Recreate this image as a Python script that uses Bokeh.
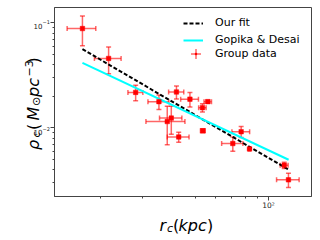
from bokeh.plotting import figure
from bokeh.layouts import row, column
from bokeh.models import (ColumnDataSource, Whisker, TeeHead, FixedTicker, Legend,
                          LegendItem, Label, Range1d)
from bokeh.embed import file_html
from bokeh.resources import INLINE

# ---- data ----
rc = [16.9, 21.7, 28.1, 35.1, 41.5, 39.5, 38.0, 42.4, 47.2, 56.0, 53.2, 53.4,
      77.0, 71.1, 83.4, 116.2, 121.0]
rc_err = [2.3, 2.75, 2.0, 3.5, 3.0, 4.2, 7.0, 4.4, 4.0, 2.0, 1.9, 1.2,
          6.5, 7.2, 0.6, 4.4, 13.0]
rho = [0.0885, 0.0459, 0.0218, 0.0178, 0.0220, 0.0124, 0.0115, 0.0082, 0.0188,
       0.0178, 0.0156, 0.0094, 0.0092, 0.0071, 0.0063, 0.0044, 0.0032]
rho_err = [0.028, 0.013, 0.0037, 0.0028, 0.0031, 0.0037, 0.0046, 0.0009, 0.003,
           0.0006, 0.0014, 0.0004, 0.0011, 0.0011, 0.0001, 0.0003, 0.0005]

fit_rc = [16.9, 121.2]
fit_rho = [0.0563, 0.0040]       # "Our fit"
gd_rho = [0.0416, 0.00497]       # "Gopika & Desai"

x_major = [100]
x_minor = [20, 30, 40, 50, 60, 70, 80, 90]
y_major = [0.01, 0.1]
y_minor = [0.003, 0.004, 0.005, 0.006, 0.007, 0.008, 0.009,
           0.02, 0.03, 0.04, 0.05, 0.06, 0.07, 0.08, 0.09]
x_labels = {100: "10²"}
y_exps = ["−2", "−1"]            # tick labels 10^-2, 10^-1

FONT = "DejaVu Sans"
YLAB_W = 50
MAIN_H = 212
AX = "#444444"

yr = Range1d(0.00222, 0.1404)

p = figure(width=320 - YLAB_W, height=MAIN_H, x_axis_type="log", y_axis_type="log",
           x_range=Range1d(12.94, 150.8), y_range=yr,
           output_backend="svg", toolbar_location=None,
           min_border_left=54 - YLAB_W, min_border_right=9, min_border_top=7,
           min_border_bottom=MAIN_H - 199)
p.grid.visible = False
p.outline_line_color = AX
p.outline_line_width = 1

for ax, maj, mn in ((p.xaxis[0], x_major, x_minor), (p.yaxis[0], y_major, y_minor)):
    ax.ticker = FixedTicker(ticks=maj, minor_ticks=mn)
    ax.axis_line_color = AX
    ax.major_tick_line_color = AX
    ax.minor_tick_line_color = AX
    ax.major_tick_out = 4
    ax.major_tick_in = 0
    ax.minor_tick_out = 2
    ax.minor_tick_in = 0
    ax.major_label_text_font = FONT
    ax.major_label_text_font_size = "7.5px"
    ax.major_label_text_color = "#222222"
    ax.major_label_standoff = 0
p.xaxis[0].major_label_overrides = x_labels
# y tick labels are drawn beside the axis in the left strip (same y scale)
p.yaxis[0].major_label_overrides = {v: "" for v in y_major}

src = ColumnDataSource(dict(
    x=rc, y=rho,
    xl=[a - b for a, b in zip(rc, rc_err)], xu=[a + b for a, b in zip(rc, rc_err)],
    yl=[a - b for a, b in zip(rho, rho_err)], yu=[a + b for a, b in zip(rho, rho_err)],
))

r_fit = p.line(fit_rc, fit_rho, line_color="black", line_width=2, line_dash="4 2")
r_gd = p.line(fit_rc, gd_rho, line_color="#00FFFF", line_width=2)

def head():
    return TeeHead(size=5, line_color="red", line_alpha=0.6, line_width=1.5)

wy = Whisker(source=src, base="x", lower="yl", upper="yu", dimension="height",
             line_color="red", line_alpha=0.6, line_width=1.5,
             lower_head=head(), upper_head=head())
wx = Whisker(source=src, base="y", lower="xl", upper="xu", dimension="width",
             line_color="red", line_alpha=0.6, line_width=1.5,
             lower_head=head(), upper_head=head())
p.add_layout(wy)
p.add_layout(wx)

r_pts = p.scatter("x", "y", source=src, marker="square", size=4.5,
                  fill_color="red", line_color="red", line_width=0.5)
# renderers used only for the legend symbol of "Group data" (size 0 in the plot)
r_cross = p.scatter("x", "y", source=src, marker="cross", size=0,
                    line_color="red", line_alpha=0.6, line_width=1.5)
r_dot = p.scatter("x", "y", source=src, marker="dot", size=0,
                  fill_color="red", line_color="red", line_width=1)

leg_kw = dict(padding=0, margin=0, label_text_font=FONT,
              label_text_font_size="11px", label_text_color="black",
              border_line_color=None, background_fill_alpha=0)
legend1 = Legend(items=[LegendItem(label="Our fit", renderers=[r_fit]),
                        LegendItem(label="Gopika & Desai", renderers=[r_gd])],
                 location=(129, 150), spacing=4, glyph_width=20, glyph_height=12,
                 label_height=12, label_standoff=12, **leg_kw)
legend2 = Legend(items=[LegendItem(label="Group data", renderers=[r_cross, r_dot])],
                 location=(129, 130), spacing=0, glyph_width=25, glyph_height=25,
                 label_height=12, label_standoff=7, **leg_kw)
p.add_layout(legend1)
p.add_layout(legend2)

def blank(w, h, **kw):
    f = figure(width=w, height=h, output_backend="svg", toolbar_location=None,
               x_axis_location=None, y_axis_location=None, min_border=0, **kw)
    f.grid.visible = False
    f.outline_line_color = None
    return f

def piece(f, text, x, y, size, italic, angle=0, y_units="screen", y_offset=0,
          color="black"):
    f.add_layout(Label(text=text, x=x, y=y, x_units="screen", y_units=y_units,
                       y_offset=y_offset, angle=angle, angle_units="deg",
                       text_font=FONT, text_font_size=f"{size}px",
                       text_font_style="italic" if italic else "normal",
                       text_align="left", text_baseline="alphabetic",
                       text_color=color))

# x axis label  r_c(kpc)   (strip spans page x YLAB_W..320, y MAIN_H..240)
xl = blank(320 - YLAB_W, 240 - MAIN_H)
bx = -YLAB_W
piece(xl, "r", bx + 155, 15, 16, True)
piece(xl, "c", bx + 162.5, 12, 11, True)
piece(xl, "(", bx + 168.5, 15, 16, False)
piece(xl, "kpc", bx + 174, 15, 16, True)
piece(xl, ")", bx + 202.5, 15, 16, False)

# left strip: y tick labels (placed with the shared log y scale) + rotated y label
yl = blank(YLAB_W, 240, y_axis_type="log", y_range=yr,
           min_border_top=7, min_border_bottom=41)
for v, e in zip(y_major, y_exps):
    piece(yl, "10", 33, v, 7, False, y_units="data", y_offset=-2.4, color="#222222")
    piece(yl, e, 42, v, 5, False, y_units="data", y_offset=1, color="#222222")

# label centred on the frame (page y 149.5 .. 56.5)
y0 = 199 - 149.5
base, sub, sup = 33, 36, 28
piece(yl, "ρ", base, y0 + 0, 16, True, 90)
piece(yl, "c", sub, y0 + 12.5, 11, True, 90)
piece(yl, "(", base, y0 + 20, 16, False, 90)
piece(yl, "M", base, y0 + 29.5, 16, True, 90)
piece(yl, "⊙", sub, y0 + 44, 11, False, 90)
piece(yl, "pc", base, y0 + 53, 16, True, 90)
piece(yl, "−3", sup, y0 + 73.5, 11, False, 90)
piece(yl, ")", base, y0 + 86.5, 16, False, 90)

layout = row(yl, column(p, xl, spacing=0), spacing=0)
open("out.html", "w").write(file_html(layout, INLINE))
